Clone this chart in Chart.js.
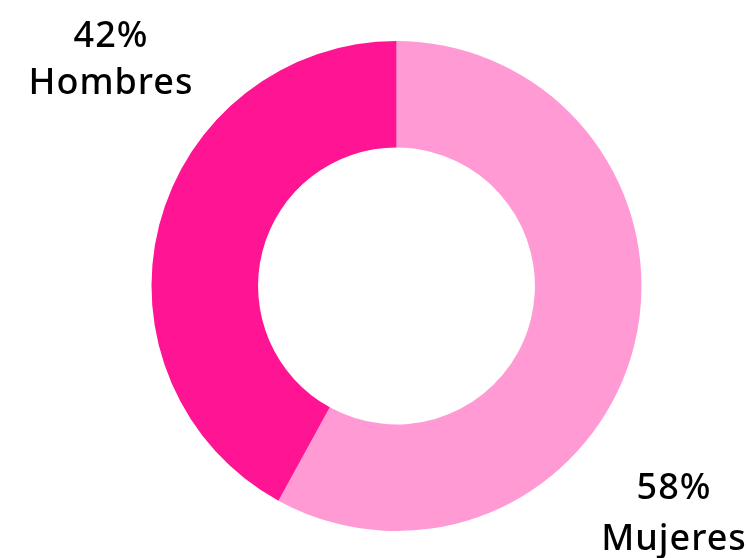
<!DOCTYPE html>
<html>
<head>
<meta charset="utf-8">
<script src="https://cdn.jsdelivr.net/npm/chart.js@4"></script>
<style>
  html, body { margin: 0; padding: 0; background: #fff; }
  #wrap { width: 746px; height: 558px; }
</style>
</head>
<body>
<div id="wrap"><canvas id="genero"></canvas></div>
<script>
// Distribución por género
var categorias = ['Mujeres', 'Hombres'];
var porcentajes = [58, 42];
var colores = ['#FF9AD4', '#FF1493'];

// posiciones de las etiquetas: x del centro, y de cada línea
var posEtiquetas = [
  {x: 674, y1: 489, y2: 540},
  {x: 111, y1: 37, y2: 84}
];

var etiquetas = {
  id: 'etiquetas',
  afterDraw: function(chart){
    var ctx = chart.ctx;
    ctx.save();
    ctx.fillStyle = '#000';
    ctx.textAlign = 'center';
    ctx.textBaseline = 'middle';
    ctx.font = '500 36px "Noto Sans", sans-serif';
    ctx.letterSpacing = '1px';
    categorias.forEach(function(nombre, i){
      var p = posEtiquetas[i];
      ctx.fillText(porcentajes[i] + '%', p.x, p.y1);
      ctx.fillText(nombre, p.x, p.y2);
    });
    ctx.restore();
  }
};

new Chart(document.querySelector('#genero'), {
  type: 'doughnut',
  data: {
    labels: categorias,
    datasets: [{
      data: porcentajes,
      backgroundColor: colores,
      borderWidth: 0
    }]
  },
  options: {
    responsive: true,
    maintainAspectRatio: false,
    animation: false,
    cutout: '56.5%',
    layout: { padding: { top: 41, bottom: 27, left: 47, right: 0 } },
    plugins: {
      legend: { display: false },
      tooltip: { enabled: false }
    }
  },
  plugins: [etiquetas]
});
</script>
</body>
</html>
